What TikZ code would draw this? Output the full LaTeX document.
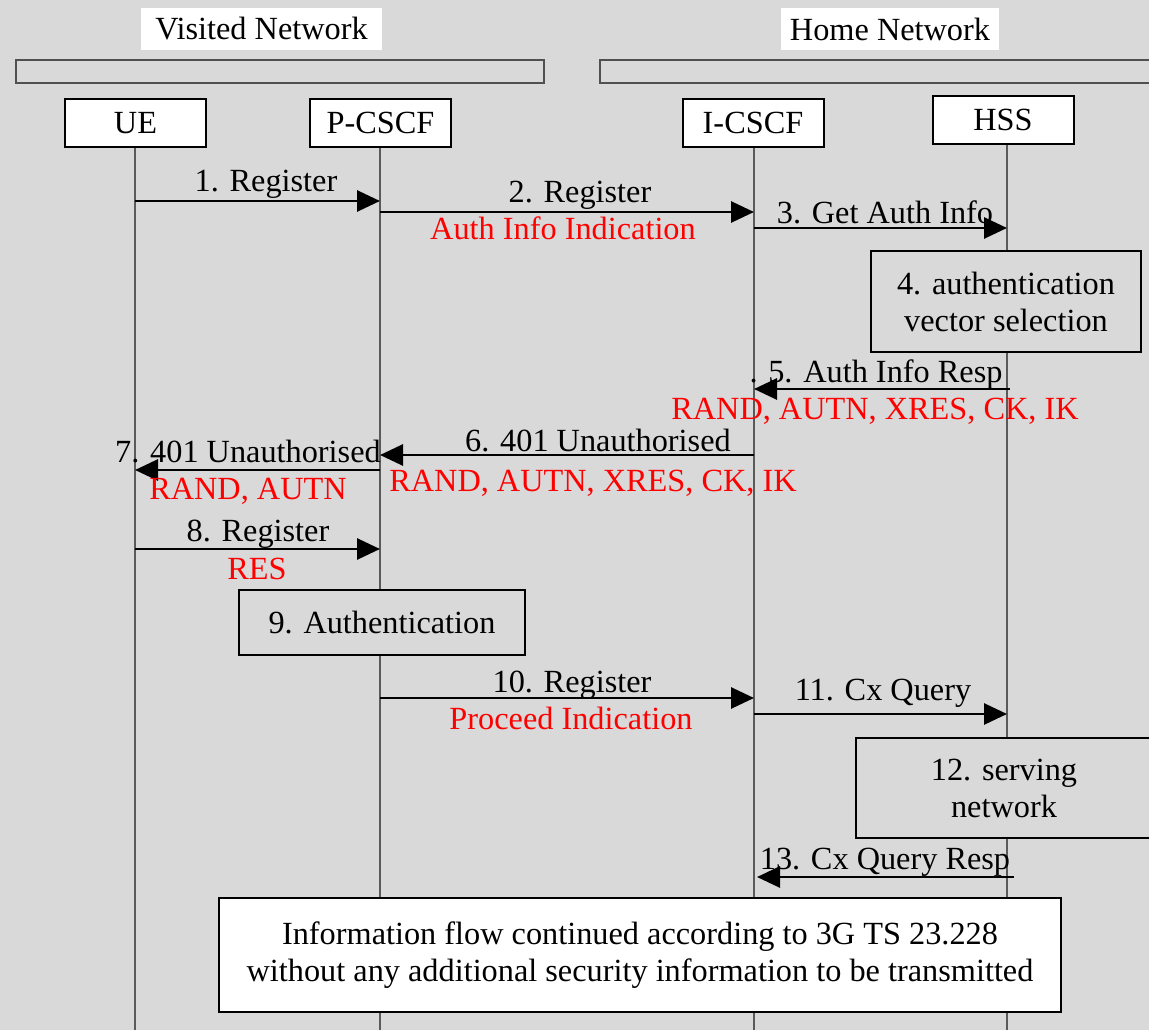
\documentclass[tikz,border=0pt]{standalone}
\usepackage{fontspec}
\setmainfont{Liberation Serif}
\usetikzlibrary{arrows.meta}
\definecolor{bg}{HTML}{D9D9D9}
\definecolor{lifegray}{HTML}{5A5A5A}
\definecolor{bargray}{HTML}{505050}
\begin{document}
\begin{tikzpicture}[x=1pt,y=-1pt,
  every node/.style={font=\fontsize{32.3}{37}\selectfont},
  actor/.style={draw=black,line width=2pt,fill=white,minimum width=141pt,minimum height=48pt,inner sep=0pt},
  netlabel/.style={fill=white,inner sep=0pt,minimum height=42pt},
  netbar/.style={draw=bargray,line width=1.5pt,fill=bg},
  life/.style={draw=lifegray,line width=1.3pt},
  msg/.style={line width=2.8pt,-{Triangle[length=23pt,width=21pt]}},
  lbl/.style={inner sep=0pt,anchor=base},
  redlbl/.style={lbl,text=red},
  procbox/.style={draw=black,line width=2.2pt,fill=bg,align=center,inner sep=0pt},
  endbox/.style={draw=black,line width=2.2pt,fill=white,align=center,inner sep=0pt}]
\fill[bg] (0,0) rectangle (1149,1030);
\useasboundingbox (0,0) rectangle (1149,1030);
\clip (0,0) rectangle (1149,1030);
% network headers
\node[netlabel,minimum width=241pt] (vnet) at (261.5,29) {Visited Network};
\node[netlabel,minimum width=218pt] (hnet) at (890,29) {Home Network};
\draw[netbar] (16,60) rectangle (544,83);
\draw[netbar] (600,60) rectangle (1160,83);
% actors
\node[actor] (ue) at (135.5,123) {UE};
\node[actor] (pcscf) at (380.5,123) {P-CSCF};
\node[actor] (icscf) at (753,123) {I-CSCF};
\node[actor] (hss) at (1003,120) {HSS};
% lifeline ends
\coordinate (ueE) at (135,1030);
\coordinate (pE) at (380,1030);
\coordinate (iE) at (754,1030);
\coordinate (hE) at (1007,1030);
\draw[life] (ue.south -| ueE) -- (ueE);
\draw[life] (pcscf.south -| pE) -- (pE);
\draw[life] (icscf.south -| iE) -- (iE);
\draw[life] (hss.south -| hE) -- (hE);
% message anchor points
\coordinate (m1a) at (135,201);  \coordinate (m1b) at (380,201);
\coordinate (m2a) at (380,212);  \coordinate (m2b) at (754,212);
\coordinate (m3a) at (754,228);  \coordinate (m3b) at (1007,228);
\coordinate (m5a) at (1010,389); \coordinate (m5b) at (754,389);
\coordinate (m6a) at (754,455);  \coordinate (m6b) at (380,455);
\coordinate (m7a) at (380,470);  \coordinate (m7b) at (135,470);
\coordinate (m8a) at (135,549);  \coordinate (m8b) at (380,549);
\coordinate (m10a) at (380,698); \coordinate (m10b) at (754,698);
\coordinate (m11a) at (754,714); \coordinate (m11b) at (1007,714);
\coordinate (m13a) at (1014,877); \coordinate (m13b) at (757,877);
% boxes
\node[procbox,minimum width=270pt,minimum height=101pt] (b4) at (1006,301.5) {4. authentication\\vector selection};
\node[procbox,minimum width=286pt,minimum height=65pt] (b9) at (382,622.5) {9. Authentication};
\node[procbox,minimum width=296pt,minimum height=100pt] (b12) at (1004,788) {12. serving\\network};
\node[endbox,minimum width=842pt,minimum height=114pt] (b14) at (640,955) {Information flow continued according to 3G TS 23.228\\without any additional security information to be transmitted};
% messages
\draw[msg] (m1a) -- (m1b);
\draw[msg] (m2a) -- (m2b);
\draw[msg] (m3a) -- (m3b);
\draw[msg] (m5a) -- (m5b);
\draw[msg] (m6a) -- (m6b);
\draw[msg] (m7a) -- (m7b);
\draw[msg] (m8a) -- (m8b);
\draw[msg] (m10a) -- (m10b);
\draw[msg] (m11a) -- (m11b);
\draw[msg] (m13a) -- (m13b);
% labels
\node[lbl] (l1) at (266,192) {1. Register};
\node[lbl] (l2) at (580,202) {2. Register};
\node[redlbl] (r2) at (563,239) {Auth Info Indication};
\node[lbl] (l3) at (885,223) {3. Get Auth Info};
\node[lbl] (l5) at (876,382) {. 5. Auth Info Resp};
\node[redlbl] (r5) at (875,419) {RAND, AUTN, XRES, CK, IK};
\node[lbl] (l6) at (598,451) {6. 401 Unauthorised};
\node[redlbl] (r6) at (593,491) {RAND, AUTN, XRES, CK, IK};
\node[lbl] (l7) at (248,462) {7. 401 Unauthorised};
\node[redlbl] (r7) at (248,499) {RAND, AUTN};
\node[lbl] (l8) at (258,541) {8. Register};
\node[redlbl] (r8) at (257,579) {RES};
\node[lbl] (l10) at (572,692) {10. Register};
\node[redlbl] (r10) at (571,729) {Proceed Indication};
\node[lbl] (l11) at (883,700) {11. Cx Query};
\node[lbl] (l13) at (885,869) {13. Cx Query Resp};
\end{tikzpicture}
\end{document}
